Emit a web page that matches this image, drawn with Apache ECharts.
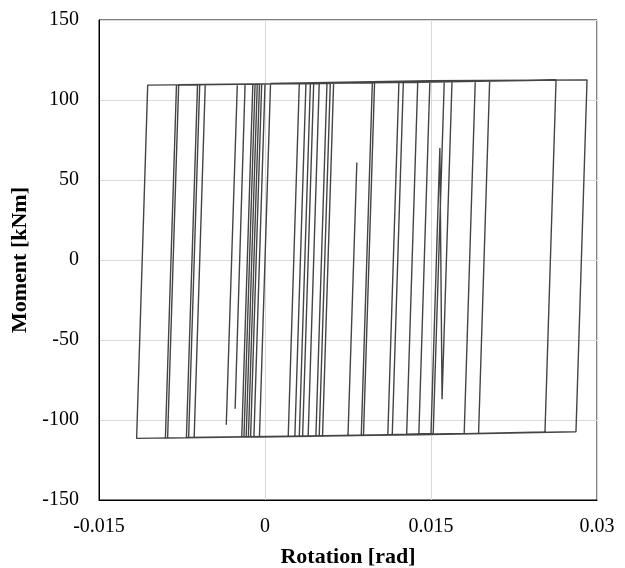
<!DOCTYPE html>
<html>
<head>
<meta charset="utf-8">
<script src="https://cdn.jsdelivr.net/npm/echarts@6/dist/echarts.min.js"></script>
<style>
	html, body { margin: 0; padding: 0; background: #fff; }
	#chart { width: 625px; height: 568px; }
</style>
</head>
<body>
<div id="chart"></div>
<script>
	// reversal points of the loop, in path order
	const rotation = [
		0, 0.0005,
		0.0031, 0.0021,
		-0.0010, 0.0000,
		0.0037, 0.0027,
		-0.0013, -0.0003,
		0.0041, 0.0031,
		-0.0015, -0.0005,
		0.0044, 0.0034,
		-0.0017, -0.0007,
		0.0049, 0.0039,
		-0.0019, -0.0009,
		0.0056, 0.0046,
		-0.0021, -0.0011,
		0.0059, 0.0049,
		-0.0064, -0.0054,
		-0.0025, -0.0035, -0.0025,
		0.0062, 0.0052,
		-0.0069, -0.0059,
		-0.0018, -0.0027, -0.0018,
		0.0097, 0.0087,
		0.0075, 0.0083, 0.0075,
		-0.0071, -0.0061,
		0.0099, 0.0089,
		-0.0088, -0.0078,
		0.0121, 0.0111,
		-0.0090, -0.0080,
		0.0125, 0.0115,
		-0.0116, -0.0106,
		0.0138, 0.0128,
		-0.0005, 0.0005,
		0.0149, 0.0139,
		0.0021, 0.0031,
		0.0169, 0.0160, 0.0158, 0.0150,
		0.0049, 0.0059,
		0.0162, 0.0152,
		0.0087, 0.0097,
		0.0190, 0.0180,
		0.0115, 0.0125,
		0.0203, 0.0193,
		0.0128, 0.0138,
		0.0263, 0.0253,
		0.0139, 0.0149,
		0.0291, 0.0281,
		0.0139
	]

	const moment = [
		0, 110.3,
		110.3, -110.2,
		-110.6, 110.0,
		110.3, -110.2,
		-110.6, 109.9,
		110.3, -110.2,
		-110.6, 109.9,
		110.3, -110.2,
		-110.6, 109.9,
		110.3, -110.2,
		-110.6, 109.9,
		110.5, -110.2,
		-110.6, 109.9,
		110.5, -110.1,
		-110.9, 109.6,
		109.9, -103, 109.9,
		110.6, -110.0,
		-110.9, 109.6,
		109.9, -93, 109.9,
		110.7, -109.6,
		-109.6, 61, -109.6,
		-110.9, 109.6,
		110.7, -109.6,
		-111.3, 109.6,
		111.0, -109.2,
		-111.3, 109.3,
		111.0, -109.2,
		-111.5, 109.3,
		111.0, -109.2,
		-110.6, 110.3,
		112.0, -109.2,
		-110.2, 110.3,
		112.0, -87, 70, -108.5,
		-110.1, 110.5,
		112.0, -108.4,
		-109.6, 110.7,
		112.0, -108.4,
		-109.2, 111.0,
		112.1, -108.4,
		-109.2, 111.0,
		112.5, -107.4,
		-109.2, 112.0,
		112.6, -107.3,
		-109.2
	]

	const xTicks = { min: -0.015, max: 0.03, interval: 0.015 }
	const yTicks = { min: -150, max: 150, interval: 50 }

	const labelFont = {
		color: '#000',
		fontFamily: 'Liberation Serif',
		fontSize: 20
	}

	const titleFont = Object.assign({}, labelFont, { fontSize: 22, fontWeight: 'bold' })

	const chart = echarts.init(document.getElementById('chart'), null, {
		renderer: 'canvas'
	})

	chart.setOption({
		animation: false,
		grid: {
			show: true,
			left: 99,
			right: 28,
			top: 20,
			bottom: 68,
			containLabel: false,
			outerBoundsMode: 'none',
			borderColor: '#000',
			borderWidth: 1
		},
		xAxis: {
			type: 'value',
			min: xTicks.min,
			max: xTicks.max,
			interval: xTicks.interval,
			name: 'Rotation [rad]',
			nameLocation: 'middle',
			nameGap: 46,
			nameTextStyle: titleFont,
			axisLine: { onZero: false, lineStyle: { color: '#000' } },
			axisTick: { show: false },
			axisLabel: Object.assign({ margin: 17 }, labelFont),
			splitLine: { lineStyle: { color: '#d9d9d9' } }
		},
		yAxis: {
			type: 'value',
			min: yTicks.min,
			max: yTicks.max,
			interval: yTicks.interval,
			name: 'Moment [kNm]',
			nameLocation: 'middle',
			nameGap: 66,
			nameTextStyle: titleFont,
			axisLine: { onZero: false, lineStyle: { color: '#000' } },
			axisTick: { show: false },
			axisLabel: Object.assign({ margin: 20 }, labelFont),
			splitLine: { lineStyle: { color: '#d9d9d9' } }
		},
		series: [{
			type: 'line',
			showSymbol: false,
			lineStyle: { color: '#444', width: 1.4 },
			data: rotation.map((r, i) => [r, moment[i]])
		}]
	})
</script>
</body>
</html>
